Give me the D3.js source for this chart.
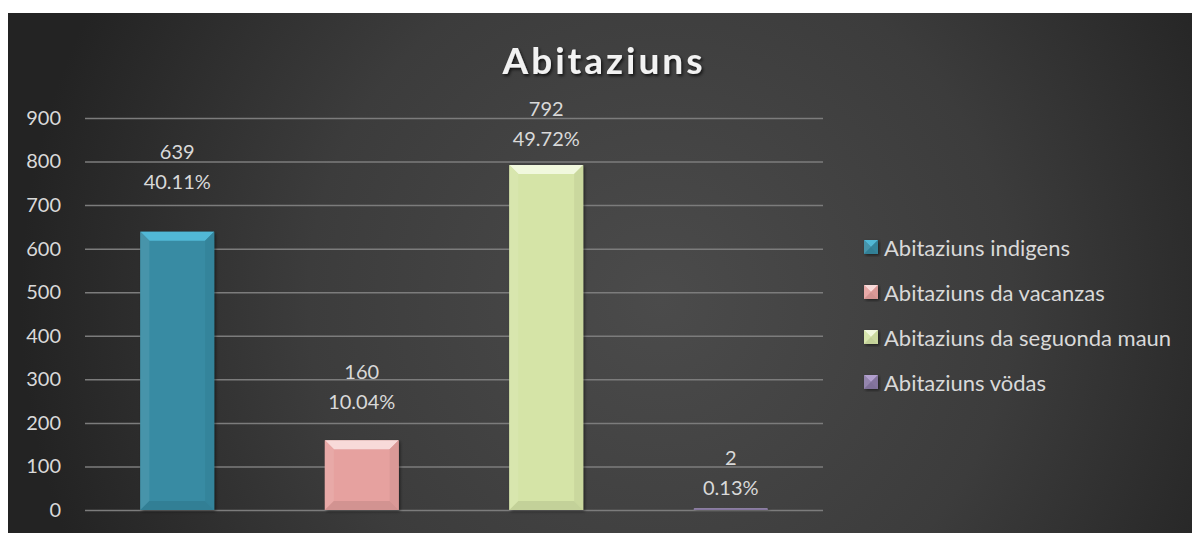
<!DOCTYPE html>
<html>
<head>
<meta charset="utf-8">
<script src="https://cdn.jsdelivr.net/npm/d3@7"></script>
<style>
  body { margin: 0; background: #ffffff; }
  svg { display: block; }
</style>
</head>
<body>
<svg id="chart"></svg>
<script>
// chart data
const categories = ["Abitaziuns indigens", "Abitaziuns da vacanzas", "Abitaziuns da seguonda maun", "Abitaziuns vödas"]
const values = [639, 160, 792, 2]
const shares = ["40.11%", "10.04%", "49.72%", "0.13%"]
const y_ticks = [0, 100, 200, 300, 400, 500, 600, 700, 800, 900]
const chart_title = "Abitaziuns"

// styling
const face_colors = ["#378ba3", "#e6a19f", "#d5e4a7", "#8b7aa6"]
const label_lift = [51, 39, 27, 22]   // how far above the bar the share label sits
const font = "Lato, 'Open Sans', sans-serif"

const width = 1192
const height = 533

const svg = d3.select("#chart")
    .attr("width", width)
    .attr("height", height)

const defs = svg.append("defs")

// background gradient, lighter in the middle, darker towards the corners
const bg = defs.append("radialGradient")
    .attr("id", "bg")
    .attr("gradientUnits", "userSpaceOnUse")
    .attr("cx", 660).attr("cy", 300).attr("r", 640)
bg.append("stop").attr("offset", "0%").attr("stop-color", "#4b4b4b")
bg.append("stop").attr("offset", "55%").attr("stop-color", "#3c3c3c")
bg.append("stop").attr("offset", "100%").attr("stop-color", "#232323")

const shadow = defs.append("filter")
    .attr("id", "shadow")
    .attr("x", "-20%").attr("y", "-20%").attr("width", "140%").attr("height", "140%")
shadow.append("feDropShadow")
    .attr("dx", 1.5).attr("dy", 1.5).attr("stdDeviation", 1.5)
    .attr("flood-color", "#000").attr("flood-opacity", 0.5)

const title_shadow = defs.append("filter").attr("id", "title_shadow")
title_shadow.append("feDropShadow")
    .attr("dx", 1.5).attr("dy", 2).attr("stdDeviation", 1.5)
    .attr("flood-color", "#000").attr("flood-opacity", 0.7)

svg.append("rect")
    .attr("x", 8).attr("y", 13)
    .attr("width", width - 8).attr("height", height - 13)
    .attr("fill", "url(#bg)")

// scales
const x = d3.scaleBand()
    .domain(categories)
    .range([85, 823])
    .paddingInner(0.6)
    .paddingOuter(0.3)

const y = d3.scaleLinear()
    .domain([0, 900])
    .range([510, 118])

// gridlines + y axis labels
const y_axis = d3.axisLeft(y)
    .tickValues(y_ticks)
    .tickSize(-(823 - 85))
    .tickPadding(24)

const axis_g = svg.append("g")
    .attr("transform", "translate(85,0)")
    .call(y_axis)

axis_g.select(".domain").remove()
axis_g.selectAll(".tick line")
    .attr("stroke", "#7c7c7c")
    .attr("stroke-width", 1.5)
axis_g.selectAll(".tick text")
    .attr("fill", "#d9d9d9")
    .attr("font-family", font)
    .attr("font-size", "20px")

// bevelled bar drawing
function drawBevel(g, x0, y0, w, h, color, bevel) {
    const b = Math.min(bevel, h / 2, w / 2)
    const x1 = x0 + w
    const y1 = y0 + h
    const c = d3.color(color)
    const top_c = d3.hsl(color)
    top_c.l = Math.min(top_c.l + 0.15, 0.92)
    top_c.s = Math.min(top_c.s + 0.12, 1)
    const light = d3.interpolateRgb(color, "#ffffff")

    g.append("rect")
        .attr("x", x0).attr("y", y0)
        .attr("width", w).attr("height", h)
        .attr("fill", color)
        .attr("filter", "url(#shadow)")

    // top facet
    g.append("polygon")
        .attr("points", [[x0, y0], [x1, y0], [x1 - b, y0 + b], [x0 + b, y0 + b]].join(" "))
        .attr("fill", top_c)
    // left facet
    g.append("polygon")
        .attr("points", [[x0, y0], [x0 + b, y0 + b], [x0 + b, y1 - b], [x0, y1]].join(" "))
        .attr("fill", light(0.08))
    // right facet
    g.append("polygon")
        .attr("points", [[x1, y0], [x1 - b, y0 + b], [x1 - b, y1 - b], [x1, y1]].join(" "))
        .attr("fill", c.darker(0.15))
    // bottom facet
    g.append("polygon")
        .attr("points", [[x0, y1], [x0 + b, y1 - b], [x1 - b, y1 - b], [x1, y1]].join(" "))
        .attr("fill", c.darker(0.25))
}

const bars_g = svg.append("g")

categories.forEach(function(cat, i) {
    const top = y(values[i])
    const h = Math.max(y(0) - top, 1.5)
    drawBevel(bars_g.append("g"), x(cat), y(0) - h, x.bandwidth(), h, face_colors[i], 9)
})

// data labels: value on first line, share below
const label_g = svg.append("g")
    .attr("font-family", font)
    .attr("font-size", "20px")
    .attr("fill", "#d9d9d9")
    .attr("text-anchor", "middle")

categories.forEach(function(cat, i) {
    const cx = x(cat) + x.bandwidth() / 2
    const share_y = y(values[i]) - label_lift[i]
    label_g.append("text")
        .attr("x", cx)
        .attr("y", share_y - 30)
        .attr("dominant-baseline", "central")
        .text(values[i])
    label_g.append("text")
        .attr("x", cx)
        .attr("y", share_y)
        .attr("dominant-baseline", "central")
        .text(shares[i])
})

// title
svg.append("text")
    .attr("x", 604)
    .attr("y", 74)
    .attr("text-anchor", "middle")
    .attr("font-family", font)
    .attr("font-weight", "bold")
    .attr("font-size", "37px")
    .attr("letter-spacing", "3px")
    .attr("fill", "#f2f2f2")
    .attr("filter", "url(#title_shadow)")
    .text(chart_title)

// legend
const legend = svg.append("g")
    .attr("transform", "translate(864,247)")

categories.forEach(function(cat, i) {
    const row = legend.append("g")
        .attr("transform", `translate(0,${i * 45})`)
    drawBevel(row, 0, -7, 14, 14, face_colors[i], 7)
    row.append("text")
        .attr("x", 20)
        .attr("y", 0)
        .attr("dominant-baseline", "central")
        .attr("font-family", font)
        .attr("font-size", "22px")
        .attr("fill", "#d9d9d9")
        .text(cat)
})
</script>
</body>
</html>
